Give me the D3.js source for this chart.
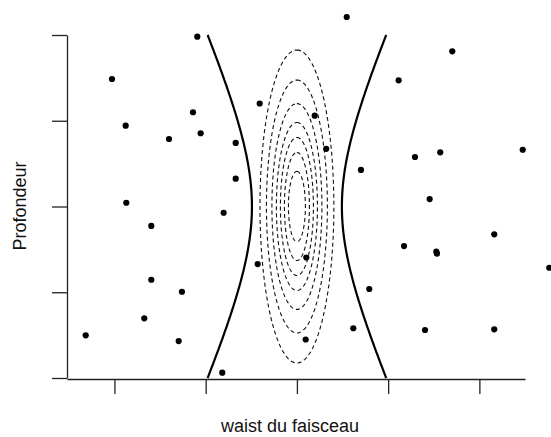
<!DOCTYPE html>
<meta charset="utf-8">
<style>
body { margin: 0; background: #fff; }

.axis path, .axis line {
  stroke: #222;
  stroke-width: 1.3px;
}

.beam {
  fill: none;
  stroke: #000;
  stroke-width: 2.2px;
}

.contour {
  fill: none;
  stroke: #111;
  stroke-width: 1.1px;
  stroke-dasharray: 4,3;
}

.label {
  font: 18px "Liberation Sans", Arial, sans-serif;
  fill: #111;
}
</style>
<svg width="551" height="437"></svg>
<script src="https://d3js.org/d3.v7.min.js"></script>
<script>

var waist = [-1.092, -2.027, -0.408, -1.139, -1.877, -1.402, -1.055, -0.671, -0.671, -1.870,
             -0.803, 0.546, 1.703, 1.115, 0.195, 0.321, 1.294, 1.571, 2.475, 0.702,
             1.455, -1.596, -0.430, -1.596, -1.260, -1.673, -2.315, -1.296, -0.818, 2.163,
             1.174, 1.528, 1.535, 2.766, 0.103, 0.793, 0.618, 1.404, 2.163, 0.096];
var profondeur = [3.980, 3.487, 3.201, 3.099, 2.942, 2.787, 2.854, 2.741, 2.324, 2.044,
                  1.927, 4.210, 3.810, 3.472, 3.059, 2.673, 2.577, 2.632, 2.662, 2.426,
                  2.087, 1.773, 1.329, 1.146, 1.006, 0.696, 0.498, 0.431, 0.062, 1.676,
                  1.539, 1.473, 1.450, 1.286, 1.405, 1.038, 0.580, 0.560, 0.568, 0.449];

var xTicks = [-2, -1, 0, 1, 2];
var yTicks = [0, 1, 2, 3, 4];

// enveloppe du faisceau : w(z) = w0 * sqrt(1 + ((z - z0) / zR)^2)
var beamCenter = 0, beamZ0 = 2, beamW0 = 0.493, beamZR = 1.166;
var beamDepth = [0, 4];

// ellipses en pointillés (demi-axes, du plus grand au plus petit)
var contourRx = [0.405, 0.334, 0.274, 0.225, 0.181, 0.137, 0.093];
var contourRy = [1.825, 1.475, 1.200, 0.980, 0.805, 0.630, 0.410];

var svg = d3.select("svg"),
    width = +svg.attr("width"),
    height = +svg.attr("height");

var x = d3.scaleLinear().domain([-2.52, 2.5]).range([67, 525]);
var y = d3.scaleLinear().domain([0, 4]).range([378, 35]);

svg.append("g")
  .attr("class", "axis")
  .attr("transform", "translate(0,379)")
  .call(d3.axisBottom(x).tickValues(xTicks).tickSize(15).tickSizeOuter(0).tickFormat(""));

svg.append("g")
  .attr("class", "axis")
  .attr("transform", "translate(67,0)")
  .call(d3.axisLeft(y).tickValues(yTicks).tickSize(15).tickSizeOuter(0).tickFormat(""));

// les deux branches du faisceau
var zs = d3.range(beamDepth[0], beamDepth[1] + 0.001, 0.02);
function width_at(z) { return beamW0 * Math.sqrt(1 + Math.pow((z - beamZ0) / beamZR, 2)); }

[-1, 1].forEach(function(side) {
  svg.append("path")
    .attr("class", "beam")
    .attr("d", d3.line()
      .x(function(z) { return x(beamCenter + side * width_at(z)); })
      .y(function(z) { return y(z); })(zs));
});

// contours
var angles = d3.range(0, 2 * Math.PI, Math.PI / 90);
svg.append("g")
  .selectAll("path")
  .data(contourRx.map(function(rx, i) { return {rx: rx, ry: contourRy[i]}; }))
  .enter().append("path")
  .attr("class", "contour")
  .attr("d", function(e) {
    return d3.line()
      .curve(d3.curveLinearClosed)
      .x(function(a) { return x(beamCenter + e.rx * Math.sin(a)); })
      .y(function(a) { return y(beamZ0 + e.ry * Math.cos(a)); })(angles);
  });

// points
svg.append("g")
  .selectAll("circle")
  .data(waist)
  .enter().append("circle")
  .attr("cx", function(d) { return x(d); })
  .attr("cy", function(d, i) { return y(profondeur[i]); })
  .attr("r", 3.1)
  .attr("fill", "#000");

svg.append("text")
  .attr("class", "label")
  .attr("text-anchor", "middle")
  .attr("x", 290)
  .attr("y", 432)
  .text("waist du faisceau");

svg.append("text")
  .attr("class", "label")
  .attr("text-anchor", "middle")
  .attr("transform", "translate(26,206) rotate(-90)")
  .text("Profondeur");

</script>
